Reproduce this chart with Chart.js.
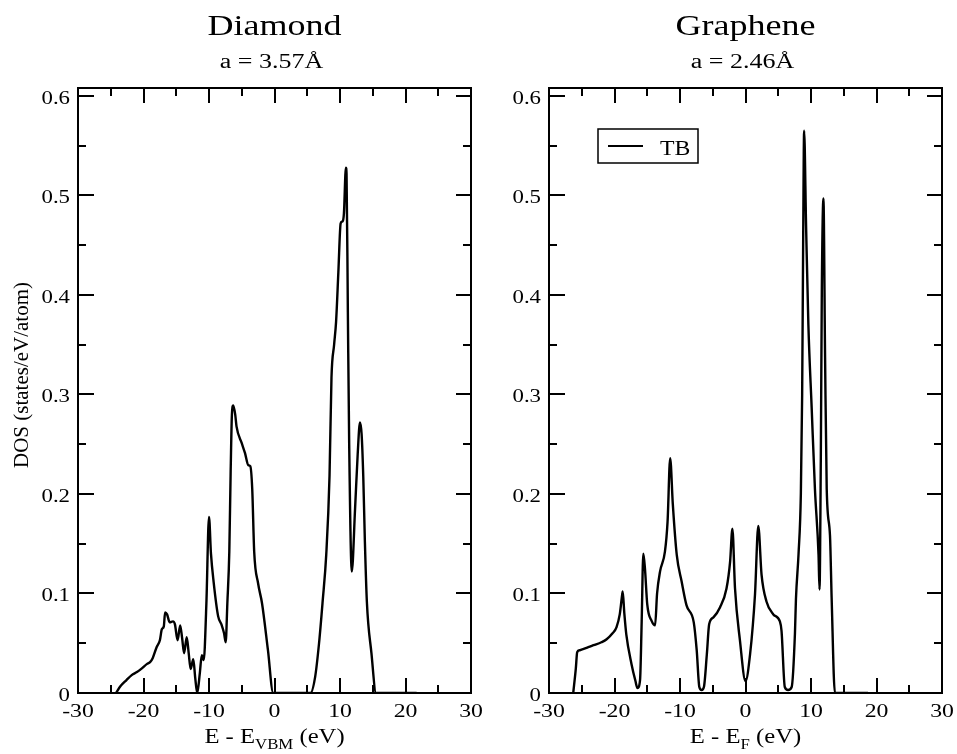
<!DOCTYPE html>
<html>
<head>
<meta charset="utf-8">
<script src="https://cdn.jsdelivr.net/npm/chart.js@4/dist/chart.umd.min.js"></script>
<style>
  html, body { margin: 0; padding: 0; background: #fff; }
  #wrap { position: relative; width: 957px; height: 754px; overflow: hidden; }
  .pane { position: absolute; top: 0; height: 754px; }
  #p1 { left: 0; width: 500px; }
  #p2 { left: 478px; width: 479px; }
</style>
</head>
<body>
<div id="wrap">
  <div class="pane" id="p1"><canvas id="c1" width="500" height="754"></canvas></div>
  <div class="pane" id="p2"><canvas id="c2" width="479" height="754"></canvas></div>
</div>
<script>
// ---------- data ----------
const panelTitles = ["Diamond", "Graphene"];
const panelSubtitles = ["a = 3.57Å", "a = 2.46Å"];
const xTicks = [-30, -20, -10, 0, 10, 20, 30];
const xTickLabels = ["-30", "-20", "-10", "0", "10", "20", "30"];
const xMinorTicks = [-25, -15, -5, 5, 15, 25];
const yTicks = [0, 0.1, 0.2, 0.3, 0.4, 0.5, 0.6];
const yTickLabels = ["0", "0.1", "0.2", "0.3", "0.4", "0.5", "0.6"];
const yMinorTicks = [0.05, 0.15, 0.25, 0.35, 0.45, 0.55];
const yAxisTitle = "DOS (states/eV/atom)";
const seriesName = "TB";

// Diamond DOS: energy (eV) and DOS values
const diamondE = [-24.2, -23.5, -22.6, -21.8, -21.0, -20.2, -19.5, -19.0, -18.6, -18.0, -17.5, -17.2, -16.9, -16.7, -16.4, -16.0, -15.5, -15.2, -14.8, -14.4, -14.1, -13.8, -13.4, -13.1, -12.8, -12.4, -12.1, -11.8, -11.4, -11.1, -10.8, -10.4, -10.0, -9.7, -9.3, -8.6, -8.1, -7.7, -7.45, -7.2, -6.9, -6.7, -6.5, -6.3, -6.0, -5.8, -5.0, -4.5, -4.0, -3.7, -3.4, -3.1, -2.5, -1.9, -1.0, -0.2, 5.5, 6.2, 6.8, 7.35, 7.9, 8.4, 8.7, 9.1, 9.4, 9.75, 10.1, 10.4, 10.6, 10.9, 11.0, 11.2, 11.4, 11.8, 12.3, 12.7, 13.05, 13.3, 13.55, 13.8, 14.1, 14.8, 15.5, 21.7];
const diamondDOS = [0, 0.007, 0.013, 0.018, 0.021, 0.025, 0.029, 0.031, 0.035, 0.046, 0.053, 0.064, 0.067, 0.081, 0.079, 0.071, 0.072, 0.069, 0.053, 0.068, 0.055, 0.040, 0.056, 0.040, 0.024, 0.034, 0.015, 0.0, 0.020, 0.038, 0.033, 0.090, 0.177, 0.140, 0.112, 0.077, 0.069, 0.060, 0.051, 0.090, 0.142, 0.220, 0.280, 0.289, 0.280, 0.268, 0.251, 0.241, 0.229, 0.228, 0.205, 0.142, 0.110, 0.090, 0.043, 0, 0, 0.016, 0.050, 0.092, 0.139, 0.218, 0.317, 0.350, 0.373, 0.423, 0.472, 0.474, 0.482, 0.528, 0.522, 0.383, 0.251, 0.122, 0.185, 0.240, 0.272, 0.260, 0.218, 0.152, 0.092, 0.040, 0, 0];

// Graphene DOS: energy (eV) and DOS values
const grapheneE = [-26.3, -25.9, -25.7, -25.3, -24.0, -23.2, -22.0, -21.2, -20.3, -19.7, -19.2, -18.9, -18.75, -18.5, -18.2, -17.4, -16.8, -16.5, -16.1, -15.85, -15.6, -15.35, -15.0, -14.3, -13.8, -13.5, -13.05, -12.3, -11.9, -11.5, -11.1, -10.5, -9.75, -9.0, -7.9, -7.45, -7.05, -6.7, -6.35, -5.9, -5.55, -4.9, -3.9, -2.9, -2.35, -2.0, -1.6, -0.85, 0.0, 0.7, 1.45, 1.95, 2.45, 3.2, 4.25, 5.25, 5.5, 6.0, 6.5, 7.05, 7.55, 7.7, 8.1, 8.45, 8.65, 8.8, 8.95, 9.25, 9.6, 10.1, 10.6, 11.15, 11.3, 11.5, 11.65, 11.9, 12.15, 12.4, 12.9, 13.15, 13.65, 18.7];
const grapheneDOS = [0, 0.025, 0.041, 0.043, 0.046, 0.048, 0.051, 0.054, 0.060, 0.066, 0.079, 0.095, 0.102, 0.080, 0.059, 0.029, 0.012, 0.005, 0.013, 0.072, 0.140, 0.125, 0.089, 0.072, 0.068, 0.100, 0.122, 0.142, 0.172, 0.236, 0.190, 0.139, 0.112, 0.088, 0.071, 0.043, 0.006, 0.003, 0.006, 0.039, 0.069, 0.076, 0.086, 0.105, 0.132, 0.165, 0.105, 0.053, 0.012, 0.039, 0.099, 0.168, 0.119, 0.092, 0.079, 0.072, 0.0625, 0.006, 0.003, 0.006, 0.060, 0.094, 0.140, 0.200, 0.300, 0.450, 0.565, 0.469, 0.370, 0.287, 0.205, 0.139, 0.104, 0.238, 0.403, 0.497, 0.337, 0.205, 0.158, 0.096, 0, 0];

// ---------- drawing helpers ----------
const SERIF = '"Liberation Serif", "Times New Roman", serif';

function stretchText(ctx, text, x, y, font, sx, align) {
  ctx.save();
  ctx.font = font;
  const w = ctx.measureText(text).width * sx;
  const x0 = align === 'center' ? x - w / 2 : (align === 'right' ? x - w : x);
  ctx.translate(x0, y);
  ctx.scale(sx, 1);
  ctx.textAlign = 'left';
  ctx.textBaseline = 'alphabetic';
  ctx.fillText(text, 0, 0);
  ctx.restore();
  return w;
}

function decorPlugin(opts) {
  return {
    id: 'decor' + opts.idx,
    afterDatasetsDraw(chart) {
      const ctx = chart.ctx;
      const a = chart.chartArea;
      const xs = chart.scales.x, ys = chart.scales.y;
      ctx.save();
      ctx.strokeStyle = '#000';
      ctx.fillStyle = '#000';
      // frame
      ctx.lineWidth = 2;
      ctx.strokeRect(a.left, a.top, a.right - a.left, a.bottom - a.top);
      // inward ticks
      const MAJ = 15, MIN = 8;
      ctx.beginPath();
      xTicks.forEach(v => {
        const p = Math.round(xs.getPixelForValue(v));
        ctx.moveTo(p, a.bottom); ctx.lineTo(p, a.bottom - MAJ);
        ctx.moveTo(p, a.top); ctx.lineTo(p, a.top + MAJ);
      });
      xMinorTicks.forEach(v => {
        const p = Math.round(xs.getPixelForValue(v));
        ctx.moveTo(p, a.bottom); ctx.lineTo(p, a.bottom - MIN);
        ctx.moveTo(p, a.top); ctx.lineTo(p, a.top + MIN);
      });
      yTicks.forEach(v => {
        const p = Math.round(ys.getPixelForValue(v));
        ctx.moveTo(a.left, p); ctx.lineTo(a.left + MAJ + 1, p);
        ctx.moveTo(a.right, p); ctx.lineTo(a.right - MAJ, p);
      });
      yMinorTicks.forEach(v => {
        const p = Math.round(ys.getPixelForValue(v));
        ctx.moveTo(a.left, p); ctx.lineTo(a.left + MIN, p);
        ctx.moveTo(a.right, p); ctx.lineTo(a.right - MIN, p);
      });
      ctx.stroke();

      // tick labels
      const tickFont = '19px ' + SERIF;
      xTicks.forEach((v, i) => {
        stretchText(ctx, xTickLabels[i], xs.getPixelForValue(v), a.bottom + 24, tickFont, 1.25, 'center');
      });
      yTicks.forEach((v, i) => {
        stretchText(ctx, yTickLabels[i], a.left - 8, ys.getPixelForValue(v) + 8, tickFont, 1.2, 'right');
      });

      const cx = (a.left + a.right) / 2;
      // titles
      stretchText(ctx, panelTitles[opts.idx], cx, 35, '30px ' + SERIF, 1.2, 'center');
      stretchText(ctx, panelSubtitles[opts.idx], cx - 3, 68, '20px ' + SERIF, 1.3, 'center');

      // x-axis title with subscript
      const big = '22px ' + SERIF, small = '15px ' + SERIF, sx = 1.12;
      const parts = [["E - E", big, 0], [opts.sub, small, 6], [" (eV)", big, 0]];
      let total = 0;
      parts.forEach(p => { ctx.font = p[1]; total += ctx.measureText(p[0]).width * sx; });
      let x = cx - total / 2;
      const base = 743;
      parts.forEach(p => {
        x += stretchText(ctx, p[0], x, base + p[2], p[1], sx, 'left');
      });

      // y-axis title
      if (opts.yTitle) {
        ctx.save();
        ctx.translate(22, 375);
        ctx.rotate(-Math.PI / 2);
        ctx.textAlign = 'center';
        ctx.textBaseline = 'middle';
        ctx.font = '21px ' + SERIF;
        ctx.fillText(yAxisTitle, 0, 0);
        ctx.restore();
      }

      // legend
      if (opts.legend) {
        const lx = a.left + 49, ly = 129, lw = 100, lh = 34;
        ctx.fillStyle = '#fff';
        ctx.fillRect(lx, ly, lw, lh);
        ctx.fillStyle = '#000';
        ctx.lineWidth = 1.5;
        ctx.strokeRect(lx, ly, lw, lh);
        ctx.lineWidth = 2;
        ctx.beginPath();
        ctx.moveTo(lx + 10, ly + 17); ctx.lineTo(lx + 45, ly + 17);
        ctx.stroke();
        stretchText(ctx, seriesName, lx + 62, ly + 26, '22px ' + SERIF, 1.08, 'left');
      }
      ctx.restore();
    }
  };
}

function makeChart(canvasId, E, D, o) {
  return new Chart(document.getElementById(canvasId), {
    type: 'line',
    data: {
      datasets: [{
        label: seriesName,
        data: E.map((e, i) => ({ x: e, y: D[i] })),
        borderColor: '#000',
        borderWidth: 2.4,
        pointRadius: 0,
        fill: false,
        cubicInterpolationMode: 'monotone'
      }]
    },
    options: {
      responsive: false,
      animation: false,
      devicePixelRatio: 1,
      layout: { padding: { top: 88, right: o.padRight, left: 0, bottom: 0 } },
      plugins: { legend: { display: false }, tooltip: { enabled: false }, title: { display: false } },
      scales: {
        x: {
          type: 'linear', min: -30, max: 30,
          afterBuildTicks: s => { s.ticks = xTicks.map(v => ({ value: v })); },
          afterFit: s => { s.height = 61; s.paddingLeft = 0; s.paddingRight = 0; },
          ticks: { display: false },
          grid: { display: false, drawTicks: false },
          border: { display: false }
        },
        y: {
          type: 'linear', min: 0, max: 0.608,
          afterBuildTicks: s => { s.ticks = yTicks.map(v => ({ value: v })); },
          afterFit: s => { s.width = o.yWidth; s.paddingTop = 0; s.paddingBottom = 0; },
          ticks: { display: false },
          grid: { display: false, drawTicks: false },
          border: { display: false }
        }
      }
    },
    plugins: [decorPlugin(o)]
  });
}

makeChart('c1', diamondE, diamondDOS, { idx: 0, padRight: 29, yWidth: 78, sub: 'VBM', yTitle: true, legend: false });
makeChart('c2', grapheneE, grapheneDOS, { idx: 1, padRight: 15, yWidth: 71, sub: 'F', yTitle: false, legend: true });
</script>
</body>
</html>
